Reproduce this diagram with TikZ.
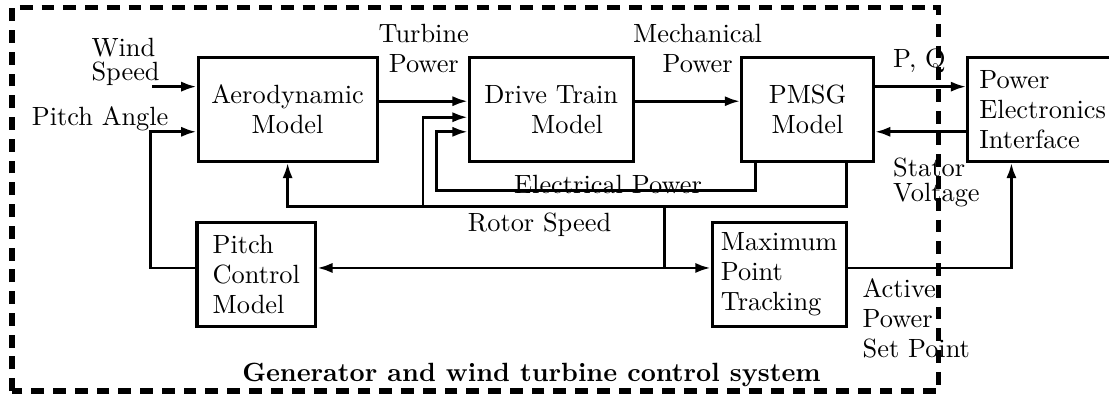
\documentclass[tikz,border=0pt]{standalone}
\usepackage{amsmath,amssymb}
\usetikzlibrary{arrows.meta}

\begin{document}
\begin{tikzpicture}[x=1cm,y=1cm,
  every node/.style={font=\fontsize{10.3}{11.7}\selectfont},
  block/.style={draw,line width=1.2pt,minimum height=1.43cm,inner sep=2pt},
  flow/.style={line width=1.1pt,-{Latex[length=6pt,width=4pt]}},
  wire/.style={line width=1.1pt},
  lab/.style={inner sep=0pt}]
\useasboundingbox (0,0) rectangle (15.23,5.45);
\draw[line width=2pt,dash pattern=on 5pt off 3.5pt] (0.165,0.08) rectangle (12.89,5.35);

% blocks
\node[block,minimum width=2.46cm,align=center] (aero) at (3.95,3.95) {Aerodynamic\\Model};
\node[block,minimum width=2.25cm,align=center] (drive) at (7.57,3.95) {Drive Train\\\hspace*{1.2em}Model};
\node[block,minimum width=1.81cm,align=center] (pmsg) at (11.09,3.95) {PMSG\\Model};
\node[block,minimum width=2.06cm,align=left] (pei) at (14.32,3.95) {Power\\Electronics\\Interface};
\node[block,minimum width=1.63cm,align=left] (pitch) at (3.52,1.68) {Pitch\\Control\\Model};
\node[block,minimum width=1.84cm,align=left] (mpt) at (10.70,1.68) {Maximum\\Point\\Tracking};

% rows of the arrows
\coordinate (ra) at (0,4.26);
\coordinate (rb) at (0,4.06);
\coordinate (rc) at (0,3.84);
\coordinate (rd) at (0,3.64);
\coordinate (wind) at (2.09,4.26);
\coordinate (pa) at (2.07,3.64);
\coordinate (rs) at (11.62,2.61);
\coordinate (rs2) at (5.81,2.61);
\coordinate (ep) at (10.37,2.83);
\coordinate (ep2) at (6.00,2.83);
\coordinate (ctl) at (9.13,1.77);
\coordinate (ps) at (13.89,1.77);

% upper path
\draw[flow] (wind) -- (wind -| aero.west);
\draw[flow] (aero.east |- rb) -- (drive.west |- rb);
\draw[flow] (drive.east |- rb) -- (pmsg.west |- rb);
\draw[flow] (pmsg.east |- ra) -- (pei.west |- ra);
\draw[flow] (pei.west |- rd) -- (pmsg.east |- rd);

% feedback
\draw[flow] (pmsg.south -| ep) -- (ep) -- (ep2) |- (drive.west |- rd);
\draw[flow] (pmsg.south -| rs) -- (rs) -| (aero.south);
\draw[flow] (rs2) |- (drive.west |- rc);
\draw[wire] (ctl |- rs) -- (ctl);
\draw[flow] (ctl) -- (pitch.east |- ctl);
\draw[flow] (ctl) -- (mpt.west |- ctl);
\draw[flow] (pitch.west |- ctl) -| (pa) -- (pa -| aero.west);
\draw[flow] (mpt.east |- ctl) -- (ps) -- (ps |- pei.south);

% labels
\node[lab,anchor=west,align=left] (lwind) at (1.25,4.60) {Wind\\[-2pt]Speed};
\node[lab,anchor=base west] (lpitch) at (0.43,3.73) {Pitch Angle};
\node[lab,align=center] (lturb) at (5.82,4.79) {Turbine\\Power};
\node[lab,align=center] (lmech) at (9.58,4.79) {Mechanical\\Power};
\node[lab,anchor=base west] (lpq) at (12.26,4.52) {P, Q};
\node[lab,anchor=west,align=left] (lstat) at (12.26,2.94) {Stator\\[-2pt]Voltage};
\node[lab,anchor=base] (lelec) at (8.35,2.79) {Electrical Power};
\node[lab,anchor=base] (lrot) at (7.41,2.27) {Rotor Speed};
\node[lab,anchor=west,align=left] (lact) at (11.84,1.08) {Active\\Power\\Set Point};
\node[lab,anchor=base west] (lsys) at (3.32,0.21) {\textbf{Generator and wind turbine control system}};
\end{tikzpicture}
\end{document}
